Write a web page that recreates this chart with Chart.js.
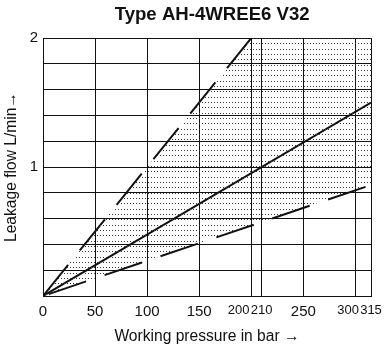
<!DOCTYPE html>
<html>
<head>
<meta charset="utf-8">
<script src="https://cdn.jsdelivr.net/npm/chart.js@4/dist/chart.umd.min.js"></script>
<style>
  html, body { margin: 0; padding: 0; background: #fff; }
  canvas { display: block; }
</style>
</head>
<body>
<canvas id="chart" width="389" height="350"></canvas>
<script>
// working pressure in bar, leakage flow in L/min
const pressureTicks = [0, 50, 100, 150, 200, 210, 250, 300, 315];
const flowLabels = [1, 2];

const upperX = [0, 200];
const upperY = [0, 2];
const nominalX = [0, 315];
const nominalY = [0, 1.5];
const lowerX = [0, 315];
const lowerY = [0, 0.86];
// tolerance band (upper edge capped at the top of the chart)
const bandX = [0, 200, 315];
const bandY = [0, 2, 2];

const FONT = "'Liberation Sans', Arial, sans-serif";
const INK = '#111';

function pts(xs, ys) {
  return xs.map((x, i) => ({ x, y: ys[i] }));
}

function dotPattern() {
  const tile = document.createElement('canvas');
  tile.width = 3;
  tile.height = 16;
  const t = tile.getContext('2d');
  t.fillStyle = '#3a3a3a';
  [1, 6, 11].forEach(r => t.fillRect(1, r, 1, 1));
  return document.createElement('canvas').getContext('2d').createPattern(tile, 'repeat');
}

// crowded labels get a smaller face and are pushed apart with spaces
const crowded = [200, 210, 300, 315];
const padRight = { 200: 7, 300: 4 };

const line = (data, extra) => Object.assign({
  data,
  borderColor: INK,
  borderWidth: 2,
  pointRadius: 0,
  fill: false,
  tension: 0,
}, extra);

new Chart(document.getElementById('chart'), {
  type: 'line',
  data: {
    datasets: [
      line(pts(lowerX, lowerY), { borderDash: [39.5, 19.5], borderDashOffset: -6 }),
      line(pts(bandX, bandY), { borderWidth: 0, backgroundColor: dotPattern(), fill: { target: 0 } }),
      line(pts(upperX, upperY), { borderDash: [40, 18.6] }),
      line(pts(nominalX, nominalY)),
    ]
  },
  options: {
    responsive: false,
    animation: false,
    layout: { padding: { left: 0, right: 18, top: 0, bottom: 0 } },
    plugins: {
      legend: { display: false },
      tooltip: { enabled: false },
      title: {
        display: true,
        fullSize: false,
        text: '  Type AH-4WREE6 V32',
        color: INK,
        font: { family: FONT, size: 18.6, weight: 'bold' },
        padding: { top: 3.5, bottom: 12.2 }
      }
    },
    scales: {
      x: {
        type: 'linear',
        min: 0,
        max: 315,
        afterBuildTicks: s => { s.ticks = pressureTicks.map(v => ({ value: v })); },
        afterFit: s => { s.height = 54; },
        grid: { color: INK, lineWidth: 1, drawTicks: false },
        border: { color: INK, width: 1 },
        ticks: {
          autoSkip: false,
          maxRotation: 0,
          padding: 7,
          color: INK,
          font: ctx => ({ family: FONT, size: crowded.includes(ctx.tick && ctx.tick.value) ? 13 : 15 }),
          callback: v => String(v) + ' '.repeat(padRight[v] || 0)
        },
        title: {
          display: true,
          text: 'Working pressure in bar \u2192',
          color: INK,
          font: { family: FONT, size: 15.6 },
          padding: { top: 0, bottom: 4 }
        }
      },
      y: {
        min: 0,
        max: 2,
        afterFit: s => { s.width = 43; },
        grid: { color: INK, lineWidth: 1, drawTicks: false },
        border: { color: INK, width: 1 },
        ticks: {
          stepSize: 0.2,
          padding: 5,
          color: INK,
          font: { family: FONT, size: 15 },
          callback: v => flowLabels.find(f => Math.abs(f - v) < 1e-9) !== undefined ? String(Math.round(v)) : ''
        },
        title: {
          display: true,
          text: 'Leakage flow L/min\u2192',
          color: INK,
          font: { family: FONT, size: 15.6 },
          padding: { top: 2, bottom: 0 }
        }
      }
    }
  }
});
</script>
</body>
</html>
